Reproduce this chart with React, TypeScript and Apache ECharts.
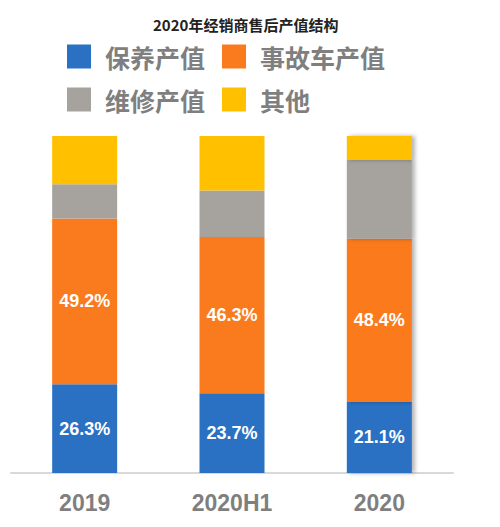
import { useEffect, useRef } from 'react'
import * as echarts from 'echarts'

const categories = ['2019', '2020H1', '2020']
const maintenance = [26.3, 23.7, 21.1]
const accident = [49.2, 46.3, 48.4]
const repair = [10.2, 13.8, 23.4]
const other = [14.3, 16.2, 7.1]

const seriesNames = ['保养产值', '事故车产值', '维修产值', '其他']
const colors = ['#2B71C3', '#FA7A1E', '#A6A39F', '#FFC000']

const cnFont = '"Noto Sans CJK SC", sans-serif'
const numFont = '"Liberation Sans", Arial, sans-serif'

// the 2020 bar has a soft shadow on its right side
const withShadow = (values: number[]) =>
  values.map((v, i) =>
    i === 2
      ? {
          value: v,
          itemStyle: {
            shadowColor: 'rgba(0,0,0,0.3)',
            shadowBlur: 4,
            shadowOffsetX: 3,
          },
        }
      : v,
  )

export default function App() {
  const chartRef = useRef<HTMLDivElement | null>(null)

  useEffect(() => {
    document.body.style.margin = '0'
    if (!chartRef.current) {
      return
    }

    const chart = echarts.init(chartRef.current, null, { renderer: 'svg' })

    const valueLabel = {
      show: true,
      position: 'inside',
      color: '#ffffff',
      fontFamily: numFont,
      fontWeight: 'bold',
      fontSize: 18,
      formatter: (p: any) => `${p.value}%`,
    }

    const legendBase = {
      left: 67,
      padding: 0,
      itemWidth: 24,
      itemHeight: 24,
      itemGap: 17,
      icon: 'rect',
      textStyle: {
        color: '#7F7F7F',
        fontFamily: cnFont,
        fontWeight: 'bold',
        fontSize: 25,
        padding: [0, 0, 0, 9],
      },
    }

    chart.setOption({
      animation: false,
      color: colors,
      title: {
        text: '2020年经销商售后产值结构',
        left: 148,
        top: 12,
        textStyle: {
          color: '#222222',
          fontFamily: cnFont,
          fontWeight: 'bold',
          fontSize: 15,
        },
      },
      legend: [
        { ...legendBase, top: 44, data: [seriesNames[0], seriesNames[1]] },
        { ...legendBase, top: 87, data: [seriesNames[2], seriesNames[3]] },
      ],
      grid: { top: 136, left: 11, right: 47, bottom: 54 },
      xAxis: {
        type: 'category',
        data: categories,
        axisLine: { lineStyle: { color: '#D9D9D9', width: 2 } },
        axisTick: { show: false },
        axisLabel: {
          color: '#7F7F7F',
          fontFamily: numFont,
          fontWeight: 'bold',
          fontSize: 23,
          lineHeight: 26,
          margin: 17,
        },
      },
      yAxis: {
        type: 'value',
        min: 0,
        max: 100,
        show: false,
        splitLine: { show: false },
      },
      series: [
        { name: seriesNames[0], type: 'bar', stack: 'total', barWidth: 65, data: withShadow(maintenance), label: valueLabel },
        { name: seriesNames[1], type: 'bar', stack: 'total', barWidth: 65, data: withShadow(accident), label: valueLabel },
        { name: seriesNames[2], type: 'bar', stack: 'total', barWidth: 65, data: withShadow(repair) },
        { name: seriesNames[3], type: 'bar', stack: 'total', barWidth: 65, data: withShadow(other) },
      ],
    })

    return () => {
      chart.dispose()
    }
  }, [])

  return <div ref={chartRef} style={{ width: 500, height: 527 }} />
}
